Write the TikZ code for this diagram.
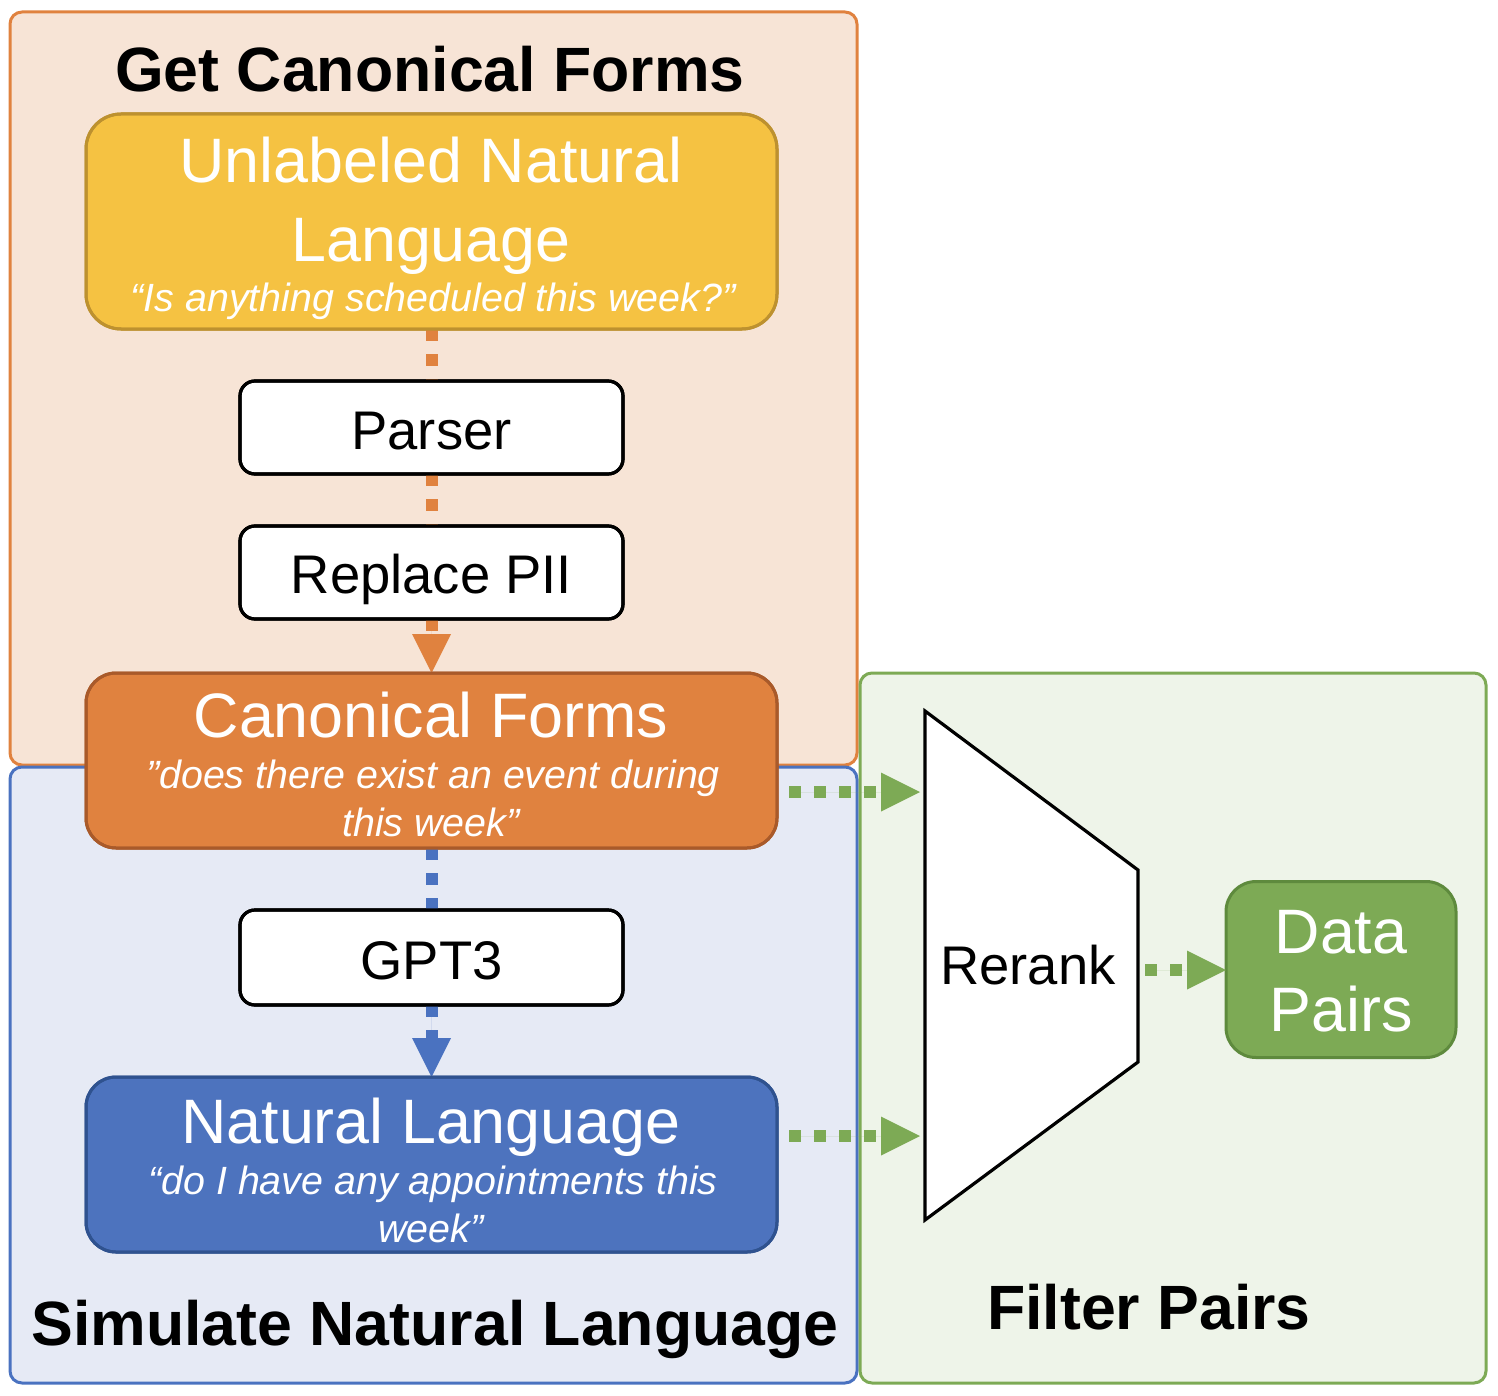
\documentclass[tikz,border=0pt]{standalone}
\usepackage{fontspec}
\setmainfont{Liberation Sans}
\usetikzlibrary{arrows.meta}
\definecolor{orangeBg}{HTML}{F7E4D6}
\definecolor{orangeL}{HTML}{E0823F}
\definecolor{orangeD}{HTML}{A95A2A}
\definecolor{yellowF}{HTML}{F5C242}
\definecolor{yellowD}{HTML}{BD912F}
\definecolor{blueBg}{HTML}{E6EAF5}
\definecolor{blueL}{HTML}{4A72C0}
\definecolor{blueF}{HTML}{4D73BE}
\definecolor{blueD}{HTML}{2F528F}
\definecolor{greenBg}{HTML}{EEF4E9}
\definecolor{greenL}{HTML}{7DAA55}
\definecolor{greenD}{HTML}{5E8A3D}
\begin{document}
\begin{tikzpicture}[x=0.5pt,y=-0.5pt,
  container/.style={draw, line width=1.5pt, rounded corners=6pt, inner sep=0pt, outer sep=0pt, rectangle},
  bigbox/.style={draw, line width=1.5pt, rounded corners=15pt, minimum width=345.5pt, minimum height=87.5pt, inner sep=0pt, outer sep=0pt},
  toolbox/.style={draw=black, fill=white, line width=1.6pt, rounded corners=7.5pt, minimum width=191.5pt, minimum height=46.5pt, inner sep=0pt, outer sep=0pt},
  lbl/.style={anchor=base, inner sep=0pt, outer sep=0pt},
  ttl/.style={lbl, font=\fontsize{31.3}{36}\selectfont\bfseries},
  maintxt/.style={lbl, text=white, font=\fontsize{31.4}{36}\selectfont},
  quotetxt/.style={lbl, text=white, font=\fontsize{19.7}{24}\selectfont\itshape},
  tooltxt/.style={lbl, font=\fontsize{27.2}{32}\selectfont},
  dotline/.style={line width=6pt, dash pattern=on 6pt off 6.5pt},
  headtip/.style={-{Triangle[length=19.5pt,width=19.5pt,line width=0pt 0 0]}}
]
\useasboundingbox (0,0) rectangle (1498,1396);

% containers
\node[container, fill=orangeBg, draw=orangeL, minimum width=423.5pt, minimum height=376.5pt] (cgf) at (433.5,388.5) {};
\node[container, fill=blueBg, draw=blueL, minimum width=423.5pt, minimum height=308pt] (snl) at (433.5,1075) {};
\node[container, fill=greenBg, draw=greenL, minimum width=313pt, minimum height=355pt] (fp) at (1173,1028) {};

% titles
\node[ttl] (tcgf) at (430,92) {Get Canonical Forms};
\node[ttl] (tsnl) at (435,1345) {Simulate Natural Language};
\node[ttl] (tfp) at (1149,1329) {Filter Pairs};

% box shapes (placed first, drawn after connectors via layering by order below)
\coordinate (unlC) at (431.5,221.5);
\coordinate (parC) at (431.5,427.5);
\coordinate (piiC) at (431.5,572.5);
\coordinate (canC) at (431.5,760.5);
\coordinate (gptC) at (431.5,957.5);
\coordinate (nlC)  at (431.5,1164.5);
\coordinate (datC) at (1341,969.5);

% rerank trapezoid corners and connector ends
\coordinate (r1) at (925,711);
\coordinate (r2) at (1138,870);
\coordinate (r3) at (1138,1062);
\coordinate (r4) at (925,1220);
\coordinate (in1) at (920,792);
\coordinate (in2) at (920,1136);
\coordinate (rout) at (1138,970);

% boxes
\node[bigbox, fill=yellowF, draw=yellowD, minimum height=107.5pt, rounded corners=17.5pt] (unl) at (unlC) {};
\node[toolbox] (parser) at (parC) {};
\node[toolbox] (pii) at (piiC) {};
\node[bigbox, fill=orangeL, draw=orangeD] (canon) at (canC) {};
\node[toolbox, minimum height=47.5pt] (gpt) at (gptC) {};
\node[bigbox, fill=blueF, draw=blueD] (nl) at (nlC) {};
\node[draw=greenD, fill=greenL, line width=1.5pt, rounded corners=15pt, minimum width=115pt, minimum height=88pt, inner sep=0pt, outer sep=0pt] (data) at (datC) {};
\draw[line width=1.6pt, fill=white, line join=miter] (r1) -- (r2) -- (r3) -- (r4) -- cycle;

% connectors
\draw[dotline, draw=orangeL] (unl.south) -- (parser.north);
\draw[dotline, draw=orangeL] (parser.south) -- (pii.north);
\draw[dotline, draw=orangeL, fill=orangeL, headtip] (pii.south) -- (canon.north);
\draw[dotline, draw=blueL] (canon.south) -- (gpt.north);
\draw[dotline, draw=blueL, fill=blueL, headtip] (gpt.south) -- (nl.north);
\draw[dotline, draw=greenL, fill=greenL, headtip, shorten <=6pt] (canon.east |- in1) -- (in1);
\draw[dotline, draw=greenL, fill=greenL, headtip, shorten <=6pt] (nl.east |- in2) -- (in2);
\draw[dotline, draw=greenL, fill=greenL, headtip, shorten <=3.5pt] (rout) -- (rout -| data.west);

% redraw box outlines over connector ends
\draw[line width=1.5pt, draw=yellowD, rounded corners=17.5pt] (unl.south west) rectangle (unl.north east);
\draw[line width=1.6pt, rounded corners=7.5pt] (parser.south west) rectangle (parser.north east);
\draw[line width=1.6pt, rounded corners=7.5pt] (pii.south west) rectangle (pii.north east);
\draw[line width=1.5pt, draw=orangeD, rounded corners=15pt] (canon.south west) rectangle (canon.north east);
\draw[line width=1.6pt, rounded corners=7.5pt] (gpt.south west) rectangle (gpt.north east);
\draw[line width=1.5pt, draw=blueD, rounded corners=15pt] (nl.south west) rectangle (nl.north east);

% texts
\node[maintxt] (unlA) at (431,183) {Unlabeled Natural};
\node[maintxt] (unlB) at (431,262) {Language};
\node[quotetxt] (unlQ) at (433,311) {“Is anything scheduled this week?”};
\node[tooltxt] (parT) at (431.5,449) {Parser};
\node[tooltxt] (piiT) at (431.5,593) {Replace PII};
\node[maintxt] (canA) at (431,737) {Canonical Forms};
\node[quotetxt] (canQ1) at (433,788) {”does there exist an event during};
\node[quotetxt] (canQ2) at (431,836) {this week”};
\node[tooltxt] (gptT) at (431.5,979) {GPT3};
\node[maintxt] (nlA) at (431,1143) {Natural Language};
\node[quotetxt] (nlQ1) at (433,1194) {“do I have any appointments this};
\node[quotetxt] (nlQ2) at (431,1242) {week”};
\node[tooltxt] (rrT) at (1028,984) {Rerank};
\node[maintxt] (datA) at (1341,953) {Data};
\node[maintxt] (datB) at (1341,1031) {Pairs};
\end{tikzpicture}
\end{document}
